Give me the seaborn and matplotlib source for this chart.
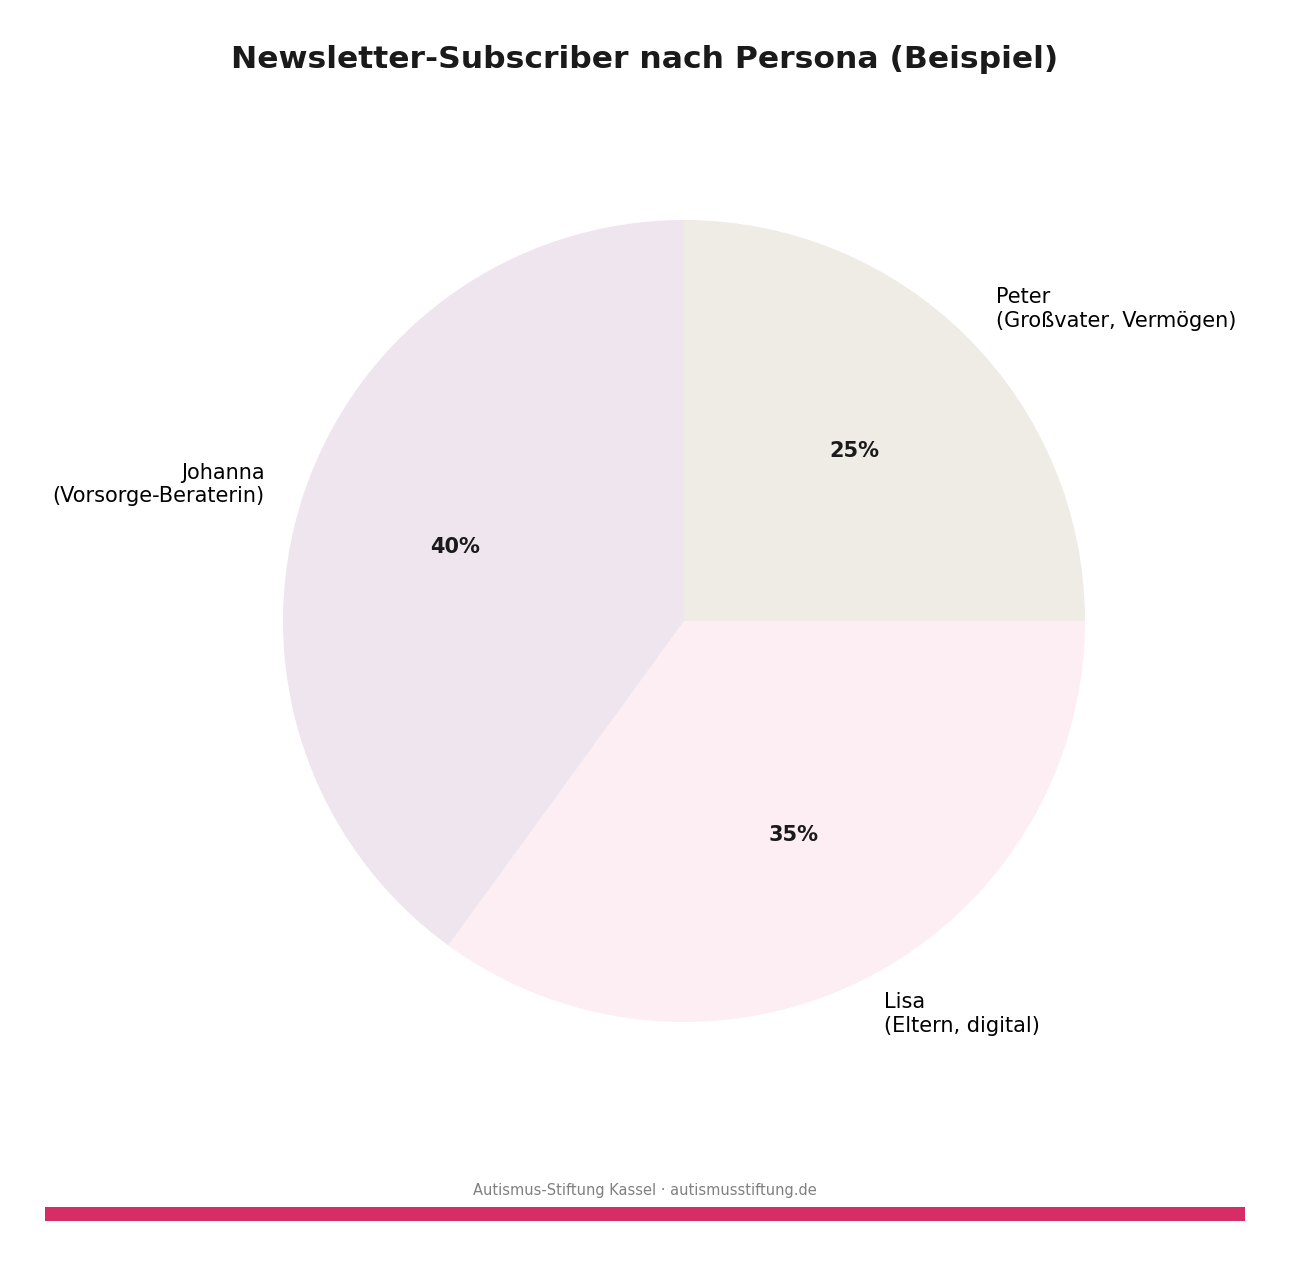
import matplotlib
matplotlib.use("Agg")
import matplotlib.pyplot as plt
import seaborn as sns

labels = ["Peter\n(Großvater, Vermögen)", "Lisa\n(Eltern, digital)", "Johanna\n(Vorsorge-Beraterin)"]
values = [25, 35, 40]
colors = ["#EFECE5", "#FCEEF3", "#EFE5EE"]

sns.set_theme(style="white")
plt.rcParams['font.family'] = ['DejaVu Sans']

fig = plt.figure(figsize=(12.9, 12.66), dpi=100)
ax = fig.add_axes([283/1290, 244/1266, 802/1290, 802/1266])
wedges, texts, autotexts = ax.pie(
    values, labels=labels, colors=colors, startangle=90, counterclock=False,
    autopct="%d%%", pctdistance=0.6, labeldistance=1.1,
    textprops={"fontsize": 15, "color": "#000000"},
    wedgeprops={"linewidth": 0},
)
for t in autotexts:
    t.set_fontweight("bold")
    t.set_color("#1a1a1a")
ax.set_xlim(-1, 1)
ax.set_ylim(-1, 1)
ax.set_aspect("equal")

fig.text(0.5, 1 - 59/1266, "Newsletter-Subscriber nach Persona (Beispiel)",
         ha="center", va="center", fontsize=22.6, fontweight="bold", color="#1a1a1a")
fig.text(0.5, 1 - 1190/1266, "Autismus-Stiftung Kassel · autismusstiftung.de",
         ha="center", va="center", fontsize=10.5, color="#808080")
bar = fig.add_axes([45/1290, 1 - 1221/1266, 1200/1290, 14/1266])
bar.set_facecolor("#D62D66")
bar.set_xticks([]); bar.set_yticks([])
for s in bar.spines.values():
    s.set_visible(False)

fig.savefig("out.png", dpi=100)
